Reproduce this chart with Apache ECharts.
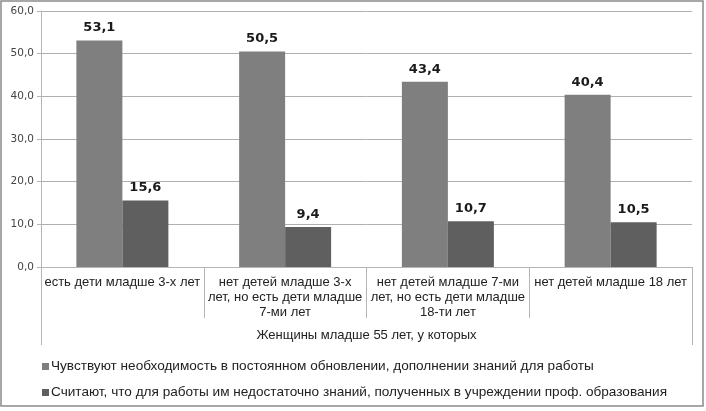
<!DOCTYPE html>
<html><head><meta charset="utf-8">
<script src="https://cdn.jsdelivr.net/npm/echarts@6/dist/echarts.min.js"></script>
<style>html,body{margin:0;padding:0;background:#fff}#c{width:706px;height:411px}</style>
</head><body><div id="c"></div>
<script>
const categories = [
  'есть дети младше 3-х лет',
  'нет детей младше 3-х\nлет, но есть дети младше\n7-ми лет',
  'нет детей младше 7-ми\nлет, но есть дети младше\n18-ти лет',
  'нет детей младше 18 лет'
];
const groupLabel = 'Женщины младше 55 лет, у которых';
const seriesNames = [
  'Чувствуют необходимость в постоянном обновлении, дополнении знаний для работы',
  'Считают, что для работы им недостаточно знаний, полученных в учреждении проф. образования'
];
const values1 = [53.1, 50.5, 43.4, 40.4];
const values2 = [15.6, 9.4, 10.7, 10.5];
const yTicks = { min: 0, max: 60, interval: 10 };

const fmt = v => v.toFixed(1).replace('.', ',');
const chart = echarts.init(document.getElementById('c'), null, {renderer: 'canvas'});
const labelStyle = {
  show: true, position: 'top', distance: 6,
  fontFamily: 'DejaVu Sans', fontWeight: 'bold', fontSize: 13, color: '#1a1a1a',
  formatter: p => fmt(p.value)
};
chart.setOption({
  animation: false,
  graphic: [{type: 'rect', shape: {x: 1, y: 1, width: 702, height: 405},
    style: {fill: 'none', stroke: '#8a8a8a', lineWidth: 1.5}, z: 100}],
  grid: {left: 41, right: 14, top: 11, bottom: 144},
  legend: {
    orient: 'vertical', left: 37, top: 354, itemGap: 11, itemWidth: 7, itemHeight: 7,
    icon: 'rect',
    textStyle: {fontFamily: 'Liberation Sans', fontSize: 13.6, lineHeight: 15, color: '#222', padding: [0, 0, 0, -3]},
    data: seriesNames
  },
  xAxis: [{
    type: 'category', data: categories, position: 'bottom',
    axisLine: {show: true, lineStyle: {color: '#b5b5b5'}},
    axisTick: {show: true, length: 51, lineStyle: {color: '#b5b5b5'}},
    axisLabel: {interval: 0, margin: 8, fontFamily: 'Liberation Sans', fontSize: 13,
      lineHeight: 15, color: '#222'}
  }, {
    type: 'category', data: [groupLabel], position: 'bottom',
    axisLine: {show: false},
    axisTick: {show: true, length: 78, lineStyle: {color: '#b5b5b5'}},
    axisLabel: {interval: 0, margin: 61, fontFamily: 'Liberation Sans', fontSize: 13, lineHeight: 15, color: '#222'}
  }],
  yAxis: {
    type: 'value', min: yTicks.min, max: yTicks.max, interval: yTicks.interval,
    axisLine: {show: true, lineStyle: {color: '#b5b5b5'}},
    axisTick: {show: true, length: 4, lineStyle: {color: '#b5b5b5'}},
    splitLine: {lineStyle: {color: '#b0b0b0'}},
    axisLabel: {formatter: v => fmt(v), fontFamily: 'DejaVu Sans', fontSize: 10.5, color: '#444', margin: 7}
  },
  series: [
    {name: seriesNames[0], type: 'bar', data: values1, barWidth: 46, barGap: '0%',
     itemStyle: {color: '#7f7f7f'}, label: labelStyle},
    {name: seriesNames[1], type: 'bar', data: values2, barWidth: 46,
     itemStyle: {color: '#5f5f5f'}, label: labelStyle}
  ]
});
</script></body></html>
